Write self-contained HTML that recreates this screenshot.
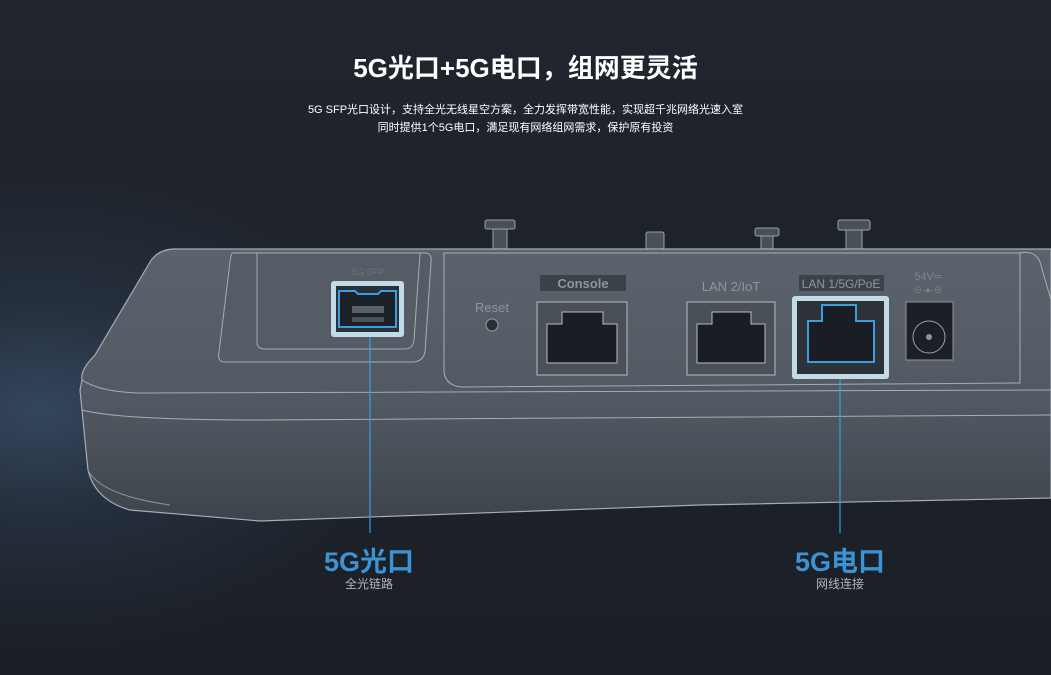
<!DOCTYPE html>
<html><head><meta charset="utf-8"><style>
html,body{margin:0;padding:0;}
body{width:1051px;height:675px;overflow:hidden;position:relative;font-family:"Liberation Sans","Noto Sans CJK SC",sans-serif;
background:radial-gradient(ellipse 380px 240px at 40px 410px,#34465d 0%,rgba(45,60,80,0.5) 45%,rgba(28,33,41,0) 100%),linear-gradient(#20252d,#1b1f26);}
.t{position:absolute;left:0;width:1051px;text-align:center;color:#fff;}
</style></head><body>
<div class="t" style="top:48px;font-size:26px;font-weight:bold;">5G光口+5G电口，组网更灵活</div>
<div class="t" style="top:101px;font-size:11px;line-height:18px;">5G SFP光口设计，支持全光无线星空方案，全力发挥带宽性能，实现超千兆网络光速入室<br>同时提供1个5G电口，满足现有网络组网需求，保护原有投资</div>
<svg width="1051" height="675" style="position:absolute;left:0;top:0">
<defs>
<linearGradient id="g" x1="0" y1="0" x2="0" y2="1">
<stop offset="0" stop-color="#5c636c"/><stop offset="0.55" stop-color="#525962"/><stop offset="1" stop-color="#3e444c"/></linearGradient>
</defs>
<g fill="#4a5058" stroke="#9aa1a9" stroke-width="1">
<rect x="485" y="220" width="30" height="9" rx="2"/><rect x="493" y="229" width="14" height="20"/>
<rect x="646" y="232" width="18" height="17" rx="2"/>
<rect x="755" y="228" width="24" height="8" rx="2"/><rect x="761" y="236" width="12" height="13"/>
<rect x="838" y="220" width="32" height="10" rx="2"/><rect x="846" y="230" width="16" height="19"/>
</g>
<path d="M175 249 L1051 249 L1051 498 L700 505 L260 521 L130 510 Q95 500 88 470 L80 390 L82 380 Q80 370 95 355 L150 262 Q158 249 175 249 Z" fill="url(#g)" stroke="#a6adb5" stroke-width="1.2"/>
<path d="M82 380 Q100 392 140 393 L1051 390" fill="none" stroke="#a6adb5" stroke-width="1"/>
<path d="M82 410 Q120 420 260 420 L1051 415" fill="none" stroke="#a6adb5" stroke-width="1"/>
<path d="M88 470 Q100 495 170 505" fill="none" stroke="#8a9199" stroke-width="1"/>
<path d="M233 253 L425 253 Q432 253 431 262 L425 352 Q423 362 412 362 L225 362 Q217 362 219 352 L230 262 Q231 253 233 253 Z" fill="#555c65" stroke="#a6adb5" stroke-width="1"/>
<path d="M257 253 L257 342 Q257 349 265 349 L405 349 Q413 349 414 340 L420 253" fill="none" stroke="#a6adb5" stroke-width="1"/>
<text x="368" y="275" font-size="9" fill="#6c737b" text-anchor="middle">5G SFP</text>
<rect x="331" y="281" width="73" height="56" rx="3" fill="#cfe8f7" opacity="0.9"/>
<rect x="336" y="286" width="63" height="46" fill="#2a3038"/>
<path d="M339 291 L355 291 L358 294 L378 294 L381 291 L396 291 L396 327 L339 327 Z" fill="#1c2128" stroke="#3a9ee0" stroke-width="2"/>
<rect x="352" y="306" width="32" height="7" fill="#5a6068"/><rect x="352" y="317" width="32" height="5" fill="#4a5058"/>
<path d="M444 253 L1020 253 L1020 383 L462 387 Q446 386 444 372 Z" fill="none" stroke="#a6adb5" stroke-width="1"/>
<path d="M1020 253 Q1035 250 1040 262 L1051 300" fill="none" stroke="#a6adb5" stroke-width="1"/>
<text x="492" y="312" font-size="13" fill="#8f959c" text-anchor="middle">Reset</text>
<circle cx="492" cy="325" r="6" fill="#2a2f36" stroke="#9aa1a9"/>
<rect x="540" y="275" width="86" height="16" fill="#3c4249"/>
<text x="583" y="288" font-size="13" font-weight="bold" fill="#8f959c" text-anchor="middle">Console</text>
<text x="731" y="291" font-size="13" fill="#8f959c" text-anchor="middle">LAN 2/IoT</text>
<rect x="799" y="275" width="85" height="16" fill="#3c4249"/>
<text x="841" y="288" font-size="12" fill="#8f959c" text-anchor="middle">LAN 1/5G/PoE</text>
<text x="928" y="280" font-size="11" fill="#7d838a" text-anchor="middle">54V═</text>
<text x="928" y="293" font-size="9" fill="#7d838a" text-anchor="middle">⊖-●-⊕</text>
<g stroke="#b7bdc4" stroke-width="1" fill="#4a5058">
<rect x="537" y="302" width="90" height="73"/>
<rect x="687" y="302" width="88" height="73"/>
</g>
<g fill="#1a1e24" stroke="#b7bdc4">
<path d="M547 324 L562 324 L562 312 L603 312 L603 324 L617 324 L617 363 L547 363 Z"/>
<path d="M697 324 L712 324 L712 312 L751 312 L751 324 L765 324 L765 363 L697 363 Z"/>
</g>
<rect x="792" y="296" width="97" height="83" rx="3" fill="#cfe8f7" opacity="0.9"/>
<rect x="797" y="301" width="87" height="73" fill="#2c3238"/>
<path d="M808 321 L822 321 L822 305 L856 305 L856 321 L874 321 L874 362 L808 362 Z" fill="#1a1e24" stroke="#3a9ee0" stroke-width="2"/>
<rect x="906" y="302" width="47" height="58" fill="#1c2026" stroke="#8f959c"/>
<circle cx="929" cy="337" r="16" fill="none" stroke="#9aa1a9"/><circle cx="929" cy="337" r="3" fill="#8f959c"/>
<line x1="370" y1="337" x2="370" y2="533" stroke="#3a9ed8" stroke-width="1.2"/>
<line x1="840" y1="379" x2="840" y2="533" stroke="#3a9ed8" stroke-width="1.2"/>
</svg>
<div style="position:absolute;left:269px;width:200px;top:540px;text-align:center;color:#3b93d6;font-size:27px;font-weight:bold;">5G光口</div>
<div style="position:absolute;left:269px;width:200px;top:575px;text-align:center;color:#b0b5bb;font-size:12px;">全光链路</div>
<div style="position:absolute;left:740px;width:200px;top:540px;text-align:center;color:#3b93d6;font-size:27px;font-weight:bold;">5G电口</div>
<div style="position:absolute;left:740px;width:200px;top:575px;text-align:center;color:#b0b5bb;font-size:12px;">网线连接</div>
</body></html>
